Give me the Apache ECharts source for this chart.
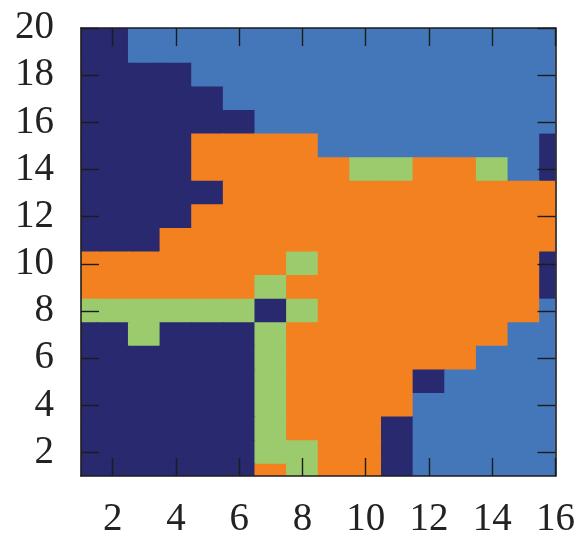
<!DOCTYPE html>
<html>
<head>
<meta charset="utf-8">
<script src="https://cdn.jsdelivr.net/npm/echarts@6/dist/echarts.min.js"></script>
<style>
html,body{margin:0;padding:0;background:#fff;}
#chart{width:578px;height:544px;}
</style>
</head>
<body>
<div id="chart"></div>
<script>
// class codes and colours
const categories = ['D', 'B', 'O', 'G'];
const categoryColors = ['#29296f', '#4477ba', '#f48120', '#9bcb6c'];

// x and y sample positions
const xValues = [1,2,3,4,5,6,7,8,9,10,11,12,13,14,15,16];
const yValues = [20,19,18,17,16,15,14,13,12,11,10,9,8,7,6,5,4,3,2,1];

// one string per row, top (y=20) to bottom (y=1), one letter per x value
const rows = [
  'DDBBBBBBBBBBBBBB',
  'DDBBBBBBBBBBBBBB',
  'DDDDBBBBBBBBBBBB',
  'DDDDDBBBBBBBBBBB',
  'DDDDDDBBBBBBBBBB',
  'DDDDOOOOBBBBBBBD',
  'DDDDOOOOOGGOOGBD',
  'DDDDDOOOOOOOOOOO',
  'DDDDOOOOOOOOOOOO',
  'DDDOOOOOOOOOOOOO',
  'OOOOOOOGOOOOOOOD',
  'OOOOOOGOOOOOOOOD',
  'GGGGGGDGOOOOOOOB',
  'DDGDDDGOOOOOOOBB',
  'DDDDDDGOOOOOOBBB',
  'DDDDDDGOOOODBBBB',
  'DDDDDDGOOOOBBBBB',
  'DDDDDDGOOODBBBBB',
  'DDDDDDGGOODBBBBB',
  'DDDDDDOGOODBBBBB'
];

// tick labels
const xTicks = [2,4,6,8,10,12,14,16];
const yTicks = [2,4,6,8,10,12,14,16,18,20];

const data = [];
rows.forEach(function (row, r) {
  for (let c = 0; c < row.length; c++) {
    data.push([xValues[c], yValues[r], categories.indexOf(row[c])]);
  }
});

const chart = echarts.init(document.getElementById('chart'), null, {renderer: 'canvas'});
const FONT = '"Liberation Serif", "DejaVu Serif", serif';
const lineCol = '#1c1c1c';

function axisCommon(extra) {
  return Object.assign({
    type: 'value',
    z: 10,
    axisLine: {show: true, onZero: false, lineStyle: {color: lineCol, width: 1.6}},
    axisTick: {show: true, inside: true, length: 18, lineStyle: {color: lineCol, width: 1.4}},
    splitLine: {show: false}
  }, extra);
}

chart.setOption({
  animation: false,
  backgroundColor: '#fff',
  grid: {left: 81, top: 28, width: 476, height: 448, containLabel: false},
  xAxis: [
    axisCommon({
      position: 'bottom', min: 1, max: 16,
      axisTick: {show: true, inside: true, length: 18, customValues: xTicks, lineStyle: {color: lineCol, width: 1.4}},
      axisLabel: {show: true, customValues: xTicks, margin: 24, fontFamily: FONT, fontSize: 39, color: '#222'}
    }),
    axisCommon({
      position: 'top', min: 1, max: 16,
      axisTick: {show: true, inside: true, length: 18, customValues: xTicks, lineStyle: {color: lineCol, width: 1.4}},
      axisLabel: {show: false}
    })
  ],
  yAxis: [
    axisCommon({
      position: 'left', min: 1, max: 20,
      axisTick: {show: true, inside: true, length: 18, customValues: yTicks, lineStyle: {color: lineCol, width: 1.4}},
      axisLabel: {show: true, customValues: yTicks, margin: 27, fontFamily: FONT, fontSize: 39, color: '#222'}
    }),
    axisCommon({
      position: 'right', min: 1, max: 20,
      axisTick: {show: true, inside: true, length: 18, customValues: yTicks, lineStyle: {color: lineCol, width: 1.4}},
      axisLabel: {show: false}
    })
  ],
  series: [{
    type: 'custom',
    xAxisIndex: 0,
    yAxisIndex: 0,
    z: 2,
    data: data,
    renderItem: function (params, api) {
      const x = api.value(0), y = api.value(1), k = api.value(2);
      const p0 = api.coord([x - 0.5, y + 0.5]);
      const p1 = api.coord([x + 0.5, y - 0.5]);
      const rect = echarts.graphic.clipRectByRect({
        x: p0[0] - 0.5, y: p0[1] - 0.5,
        width: p1[0] - p0[0] + 1, height: p1[1] - p0[1] + 1
      }, {
        x: params.coordSys.x, y: params.coordSys.y,
        width: params.coordSys.width, height: params.coordSys.height
      });
      if (!rect) return;
      return {
        type: 'rect',
        shape: rect,
        style: {fill: categoryColors[k]}
      };
    }
  }]
});
</script>
</body>
</html>
